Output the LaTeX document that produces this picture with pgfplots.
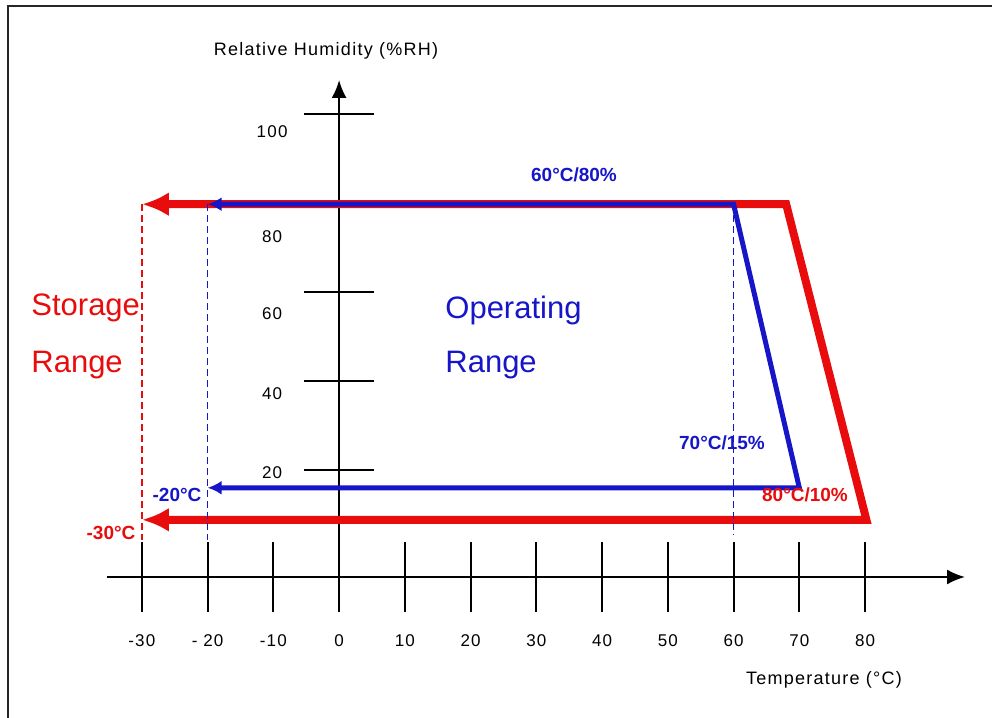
\documentclass[border=0pt]{standalone}
\usepackage{fontspec}
\setmainfont{Liberation Sans}
\newfontfamily\widefont[LetterSpace=7]{Liberation Sans}
\usepackage{pgfplots}
\pgfplotsset{compat=1.18}
\usetikzlibrary{arrows.meta}

\definecolor{stred}{RGB}{232,12,12}
\definecolor{opblue}{RGB}{22,22,200}

\begin{document}
\begin{tikzpicture}
\useasboundingbox (0,0) rectangle (496pt,359pt);
\begin{axis}[
	at={(53.5pt,70.5pt)}, anchor=south west,
	scale only axis, width=429pt, height=248.5pt,
	xmin=-35.3, xmax=95.2, ymin=-4.04, ymax=107.6,
	axis x line=bottom, axis y line=middle,
	axis line style={line width=1pt, -{Latex[length=9pt,width=7.5pt]}},
	tick align=center, major tick length=35pt,
	tick style={black, line width=1pt},
	minor tick num=0,
	xtick={-30,-20,...,80},
	xticklabels={-30,- 20,-10,0,10,20,30,40,50,60,70,80},
	xticklabel style={font=\widefont\fontsize{8.5}{10}\selectfont, anchor=north, yshift=-8pt},
	ytick={20,40,60,80,100}, yticklabels={},
	extra y ticks={19.3,37.1,55.1,72.4,95.9},
	extra y tick labels={20,40,60,80,100},
	extra y tick style={major tick length=0pt,
		yticklabel style={font=\widefont\fontsize{8.5}{10}\selectfont, anchor=center, xshift=-33.5pt}},
	clip=false,
]
	% storage range (red)
	\addplot[stred, line width=4pt, line join=miter,
		{Latex[length=13.5pt,width=12pt]}-{Latex[length=13.5pt,width=12pt]}]
		coordinates {(-30,79.7) (68,79.7) (80.2,8.8) (-30,8.8)};
	% operating range (blue)
	\addplot[opblue, line width=2.5pt, line join=miter,
		{Latex[length=7pt,width=7pt]}-{Latex[length=7pt,width=7pt]}]
		coordinates {(-20,79.7) (60,79.7) (70,16) (-20,16)};
	% guide lines
	\addplot[stred, line width=0.8pt, dash pattern=on 3.5pt off 2pt] coordinates {(-30,79.7) (-30,4.3)};
	\addplot[opblue, line width=0.8pt, dash pattern=on 3.5pt off 2pt] coordinates {(-20,79.7) (-20,4.3)};
	\addplot[opblue, line width=0.8pt, dash pattern=on 3.5pt off 2pt] coordinates {(60,79.7) (60,5.5)};
\end{axis}
\begin{scope}[x=0.5pt, y=-0.5pt, shift={(0,359pt)}]
	\draw[line width=1pt, black!85] (8,718) -- (8,6) -- (992,6);
	\node[font=\widefont\fontsize{9}{11}\selectfont] at (326,51) {Relative Humidity (\%RH)};
	\node[font=\widefont\fontsize{9}{11}\selectfont] at (824,680) {Temperature (°C)};
	\node[anchor=west, text=stred, font=\fontsize{15.5}{18}\selectfont, inner sep=0pt] at (31,308) {Storage};
	\node[anchor=west, text=stred, font=\fontsize{15.5}{18}\selectfont, inner sep=0pt] at (31,365) {Range};
	\node[anchor=west, text=opblue, font=\fontsize{15.5}{18}\selectfont, inner sep=0pt] at (445,310) {Operating};
	\node[anchor=west, text=opblue, font=\fontsize{15.5}{18}\selectfont, inner sep=0pt] at (445,365) {Range};
	\node[text=opblue, font=\bfseries\fontsize{9.5}{11}\selectfont] at (574,175) {60°C/80\%};
	\node[text=opblue, font=\bfseries\fontsize{9.5}{11}\selectfont] at (722,443) {70°C/15\%};
	\node[text=stred, font=\bfseries\fontsize{9.5}{11}\selectfont] at (805,495) {80°C/10\%};
	\node[text=opblue, font=\bfseries\fontsize{9.5}{11}\selectfont] at (177,495) {-20°C};
	\node[text=stred, font=\bfseries\fontsize{9.5}{11}\selectfont] at (111,533) {-30°C};
\end{scope}
\end{tikzpicture}
\end{document}
